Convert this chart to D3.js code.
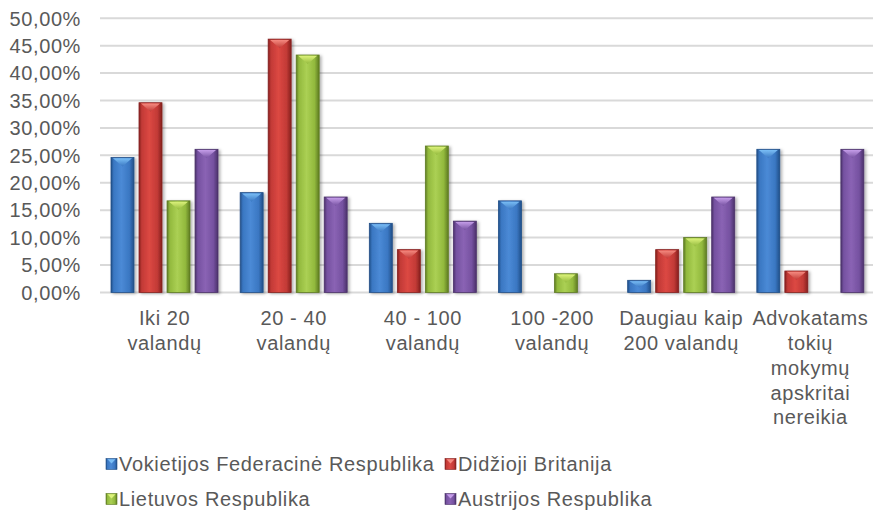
<!DOCTYPE html>
<html><head><meta charset="utf-8">
<script src="https://cdn.jsdelivr.net/npm/d3@7"></script>
<style>
html,body{margin:0;padding:0;background:#fff;}
svg{display:block;font-family:"Liberation Sans",Arial,sans-serif;}
</style></head>
<body><svg id="c" width="875" height="513"></svg>
<script>
const categories = [["Iki 20","valandų"],["20 - 40","valandų"],["40 - 100","valandų"],["100 -200","valandų"],["Daugiau kaip","200 valandų"],["Advokatams","tokių","mokymų","apskritai","nereikia"]];
const seriesNames = ["Vokietijos Federacinė Respublika","Didžioji Britanija","Lietuvos Respublika","Austrijos Respublika"];
const germany   = [0.246,0.182,0.126,0.167,0.022,0.261];
const britain   = [0.346,0.462,0.078,0.0,0.078,0.039];
const lithuania = [0.167,0.433,0.267,0.034,0.100,0.0];
const austria   = [0.261,0.174,0.130,0.0,0.174,0.261];
const yTicks = [0,0.05,0.10,0.15,0.20,0.25,0.30,0.35,0.40,0.45,0.50];
const seriesValues = [germany,britain,lithuania,austria];

const palette = [
  {light:"#4b8ad6",mid:"#3a77c2",dark:"#214f88",cap:"#79bdf5"},
  {light:"#dc4843",mid:"#c23a36",dark:"#85201e",cap:"#f58a80"},
  {light:"#abd054",mid:"#92b93d",dark:"#5e7b22",cap:"#dcf27a"},
  {light:"#8a63b4",mid:"#7551a0",dark:"#4b316a",cap:"#c49ce8"}
];

const svg = d3.select("#c");
const defs = svg.append("defs");
palette.forEach((p,i)=>{
  const g = defs.append("linearGradient").attr("id","g"+i).attr("x1","0").attr("x2","1").attr("y1","0").attr("y2","0");
  [[0,p.dark],[0.12,p.mid],[0.45,p.light],[0.8,p.mid],[1,p.dark]].forEach(s=>g.append("stop").attr("offset",s[0]).attr("stop-color",s[1]));
  const gv = defs.append("linearGradient").attr("id","gl"+i).attr("x1","0").attr("x2","0").attr("y1","0").attr("y2","1");
  [[0,p.cap],[1,p.mid]].forEach(s=>gv.append("stop").attr("offset",s[0]).attr("stop-color",s[1]));
});
const f = defs.append("filter").attr("id","sh").attr("x","-20%").attr("y","-10%").attr("width","150%").attr("height","130%");
f.append("feDropShadow").attr("dx",2).attr("dy",1).attr("stdDeviation",1.5).attr("flood-color","#000").attr("flood-opacity",0.3);

const left = 100, right = 875, y0 = 292.4, y1 = 18.3;
const x0 = d3.scaleBand().domain(d3.range(categories.length)).range([left,right]).padding(0);
const x1 = d3.scaleBand().domain(d3.range(seriesNames.length)).range([11,118]).paddingInner(0.18).paddingOuter(0);
const y = d3.scaleLinear().domain([0,0.5]).range([y0,y1]);

// gridlines
svg.append("g").selectAll("line").data(yTicks).join("line")
  .attr("x1",left).attr("x2",right-2).attr("y1",d=>y(d)).attr("y2",d=>y(d))
  .attr("stroke","#d9d9d9").attr("stroke-width",2);

// y tick labels
const fmt = d => (d*100).toFixed(2).replace(".",",")+"%";
svg.append("g").selectAll("text").data(yTicks).join("text")
  .attr("x",81).attr("y",d=>y(d)).attr("dy","0.36em").attr("text-anchor","end")
  .attr("font-size",20).attr("letter-spacing","0.6px").attr("fill","#595959").text(fmt);

// bars
const groups = svg.append("g").selectAll("g").data(categories).join("g")
  .attr("transform",(d,i)=>`translate(${x0(i)},0)`);
groups.each(function(cat,ci){
  const g = d3.select(this);
  seriesValues.forEach((vals,si)=>{
    const v = vals[ci];
    if(!v) return;
    const bx = x1(si), bw = x1.bandwidth(), top = y(v), h = y0 - top;
    const bg = g.append("g").attr("filter","url(#sh)");
    bg.append("rect").attr("x",bx).attr("y",top).attr("width",bw).attr("height",h)
      .attr("fill",`url(#g${si})`).attr("stroke",palette[si].dark).attr("stroke-width",0.8);
    const capH = Math.min(9, h*0.6);
    bg.append("polygon")
      .attr("points",`${bx+2},${top+0.8} ${bx+bw-2},${top+0.8} ${bx+bw/2},${top+capH}`)
      .attr("fill",`url(#gl${si})`);
  });
});

// category labels
svg.append("g").selectAll("text").data(categories).join("text")
  .attr("x",(d,i)=>x0(i)+x0.bandwidth()/2).attr("y",318)
  .attr("text-anchor","middle").attr("font-size",20).attr("letter-spacing","0.6px").attr("fill","#595959")
  .each(function(lines){
    const t = d3.select(this);
    lines.forEach((l,k)=>t.append("tspan").attr("x",t.attr("x")).attr("dy",k===0?"0.36em":"1.24em").text(l));
  });

// legend
const legPos = [[106,464],[445,464],[106,499],[445,499]];
const lg = svg.append("g").selectAll("g").data(seriesNames).join("g")
  .attr("transform",(d,i)=>`translate(${legPos[i][0]},${legPos[i][1]})`);
lg.append("rect").attr("x",0).attr("y",-5.5).attr("width",11).attr("height",11)
  .attr("fill",(d,i)=>`url(#g${i})`).attr("stroke",(d,i)=>palette[i].dark).attr("stroke-width",0.6);
lg.append("polygon").attr("points","1.5,-4.8 9.5,-4.8 5.5,-0.5").attr("fill",(d,i)=>palette[i].cap);
lg.append("text").attr("x",13).attr("y",0).attr("dy","0.36em").attr("font-size",20).attr("letter-spacing","0.65px").attr("fill","#595959").text(d=>d);
</script></body></html>
